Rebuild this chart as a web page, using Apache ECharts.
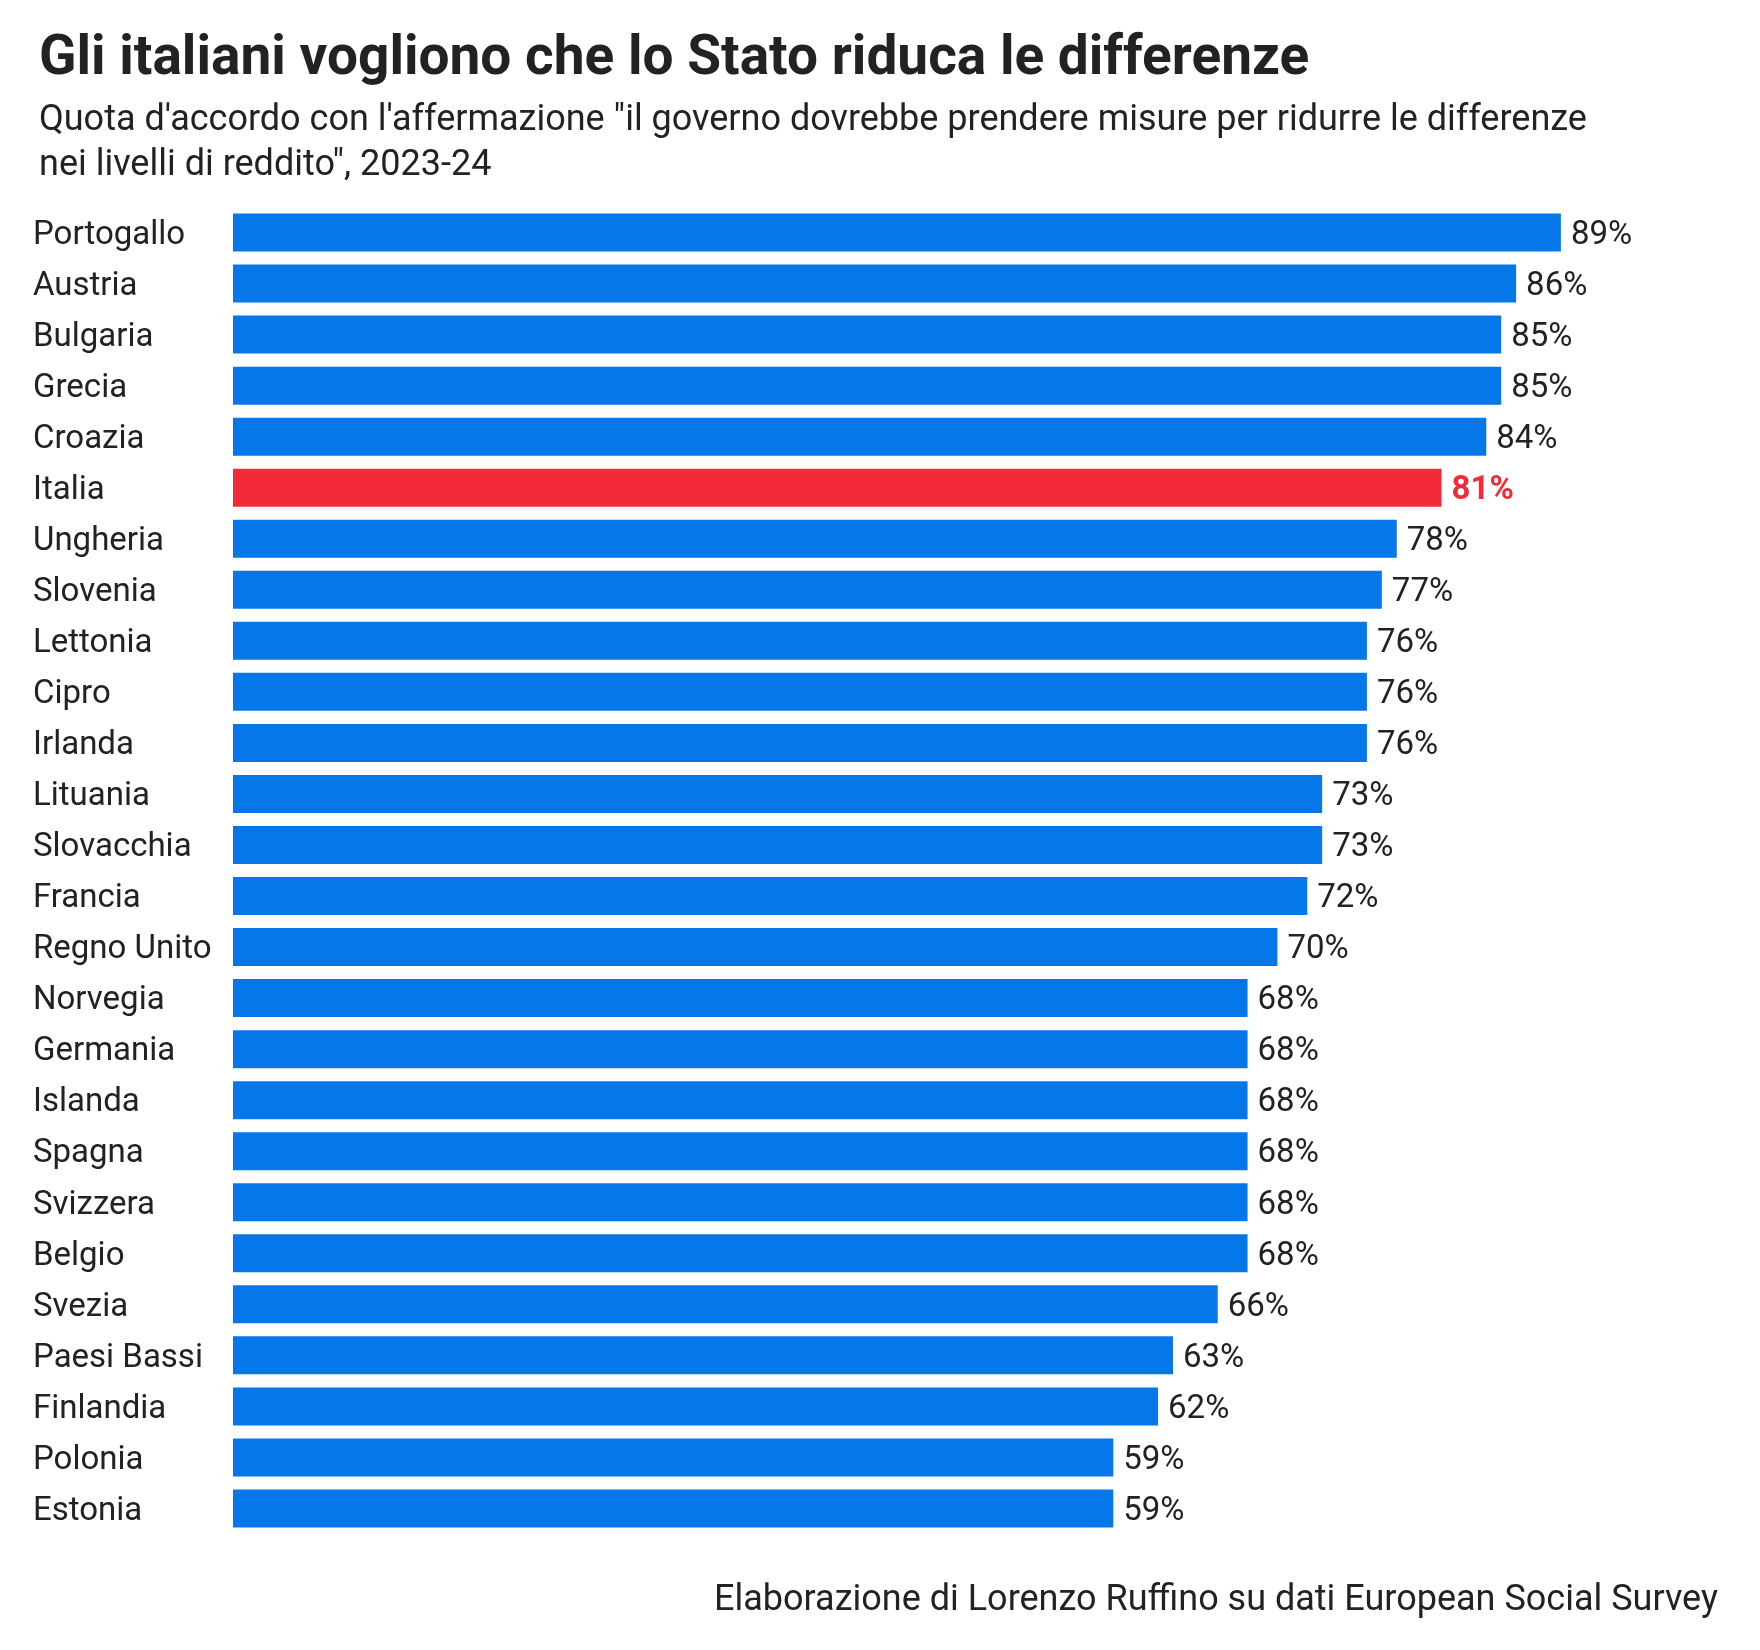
<!DOCTYPE html>
<html>
<head>
<meta charset="utf-8">
<title>Gli italiani vogliono che lo Stato riduca le differenze</title>
<script src="https://cdn.jsdelivr.net/npm/echarts@6/dist/echarts.min.js"></script>
<style>
    html, body { margin: 0; padding: 0; background: #fff; }
    #chart { width: 1760px; height: 1650px; }
</style>
</head>
<body>
<div id="chart"></div>
<script>
// dati: quota d'accordo (%), ESS 2023-24
var paesi = ['Portogallo', 'Austria', 'Bulgaria', 'Grecia', 'Croazia', 'Italia', 'Ungheria', 'Slovenia',
    'Lettonia', 'Cipro', 'Irlanda', 'Lituania', 'Slovacchia', 'Francia', 'Regno Unito', 'Norvegia',
    'Germania', 'Islanda', 'Spagna', 'Svizzera', 'Belgio', 'Svezia', 'Paesi Bassi', 'Finlandia',
    'Polonia', 'Estonia'];
var quote = [89, 86, 85, 85, 84, 81, 78, 77, 76, 76, 76, 73, 73, 72, 70, 68, 68, 68, 68, 68, 68, 66, 63, 62, 59, 59];
var evidenziato = 'Italia';

var blu = '#0677e8';
var rosso = '#f22a3a';
var testo = '#222222';
var font = 'Roboto';

var myChart = echarts.init(document.getElementById('chart'));

var dati = quote.map(function (v, i) {
    if (paesi[i] === evidenziato) {
        return {
            value: v,
            itemStyle: { color: rosso },
            label: { color: rosso, fontWeight: 'bold' }
        };
    }
    return v;
});

var option = {
    backgroundColor: '#fff',
    animation: false,
    textStyle: { fontFamily: font },
    title: [{
        text: 'Gli italiani vogliono che lo Stato riduca le differenze',
        left: 34,
        top: 28,
        textStyle: {
            fontFamily: font,
            fontSize: 55,
            fontWeight: 'bold',
            color: testo,
            lineHeight: 55
        }
    }, {
        text: 'Quota d\'accordo con l\'affermazione "il governo dovrebbe prendere misure per ridurre le differenze\nnei livelli di reddito", 2023-24',
        left: 34,
        top: 93,
        textStyle: {
            fontFamily: font,
            fontSize: 36,
            fontWeight: 'normal',
            color: testo,
            lineHeight: 45
        }
    }, {
        text: 'Elaborazione di Lorenzo Ruffino su dati European Social Survey',
        right: 37,
        top: 1578,
        textStyle: {
            fontFamily: font,
            fontSize: 36,
            fontWeight: 'normal',
            color: testo,
            lineHeight: 36
        }
    }],
    grid: {
        left: 233,
        right: 35,
        top: 207,
        bottom: 116
    },
    xAxis: {
        type: 'value',
        min: 0,
        max: 100,
        show: false
    },
    yAxis: {
        type: 'category',
        data: paesi,
        inverse: true,
        axisLine: { show: false },
        axisTick: { show: false },
        splitLine: { show: false },
        axisLabel: {
            align: 'left',
            verticalAlign: 'top',
            lineHeight: 6,
            margin: 200,
            fontFamily: font,
            fontSize: 33,
            color: testo
        }
    },
    series: [{
        type: 'bar',
        data: dati,
        barWidth: 38,
        itemStyle: { color: blu },
        label: {
            show: true,
            position: 'right',
            distance: 10,
            offset: [0, 3],
            fontFamily: font,
            fontSize: 33,
            color: testo,
            formatter: '{c}%'
        }
    }]
};

myChart.setOption(option);

window.addEventListener('resize', function () {
    myChart.resize();
});
</script>
</body>
</html>
